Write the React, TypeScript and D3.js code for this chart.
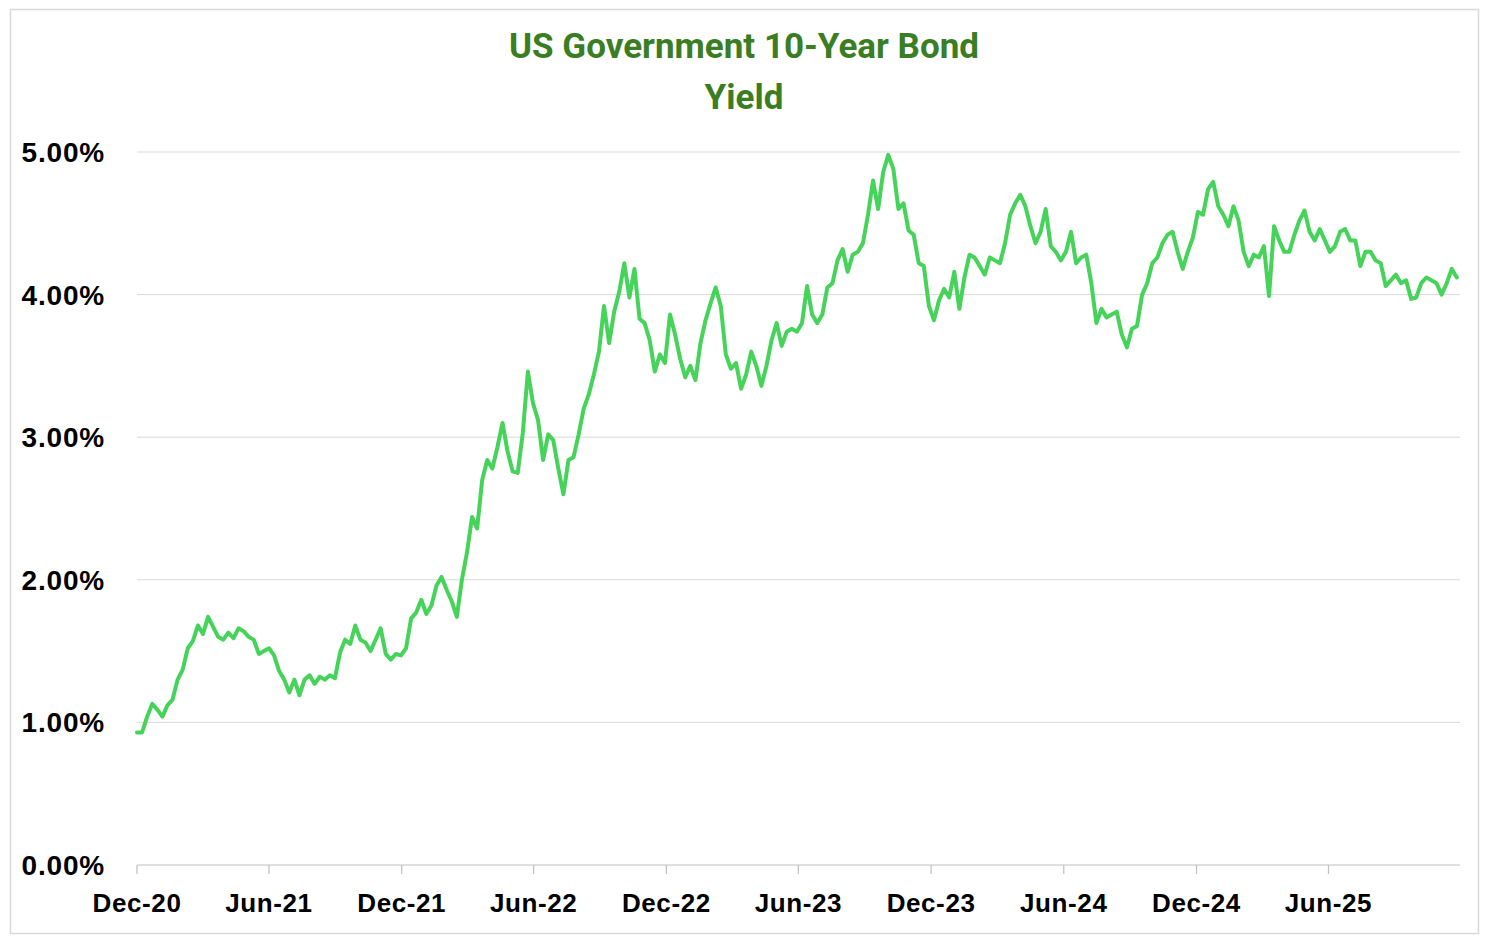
import React from 'react';
import * as d3 from 'd3';

// weekly yields (%), one array per half year, starting Mon 21 Dec 2020
const h1_2021 = [0.93, 0.93, 1.04, 1.13, 1.09, 1.04, 1.12, 1.16, 1.30, 1.37, 1.52, 1.57, 1.68, 1.62, 1.74, 1.67, 1.60, 1.58, 1.63, 1.59, 1.66, 1.64, 1.60, 1.58, 1.48, 1.50];
const h2_2021 = [1.52, 1.47, 1.36, 1.30, 1.21, 1.30, 1.19, 1.30, 1.33, 1.27, 1.32, 1.30, 1.33, 1.31, 1.49, 1.58, 1.55, 1.68, 1.58, 1.56, 1.50, 1.58, 1.66, 1.48, 1.44, 1.48];
const h1_2022 = [1.47, 1.52, 1.73, 1.77, 1.86, 1.76, 1.82, 1.96, 2.02, 1.93, 1.85, 1.74, 2.00, 2.19, 2.44, 2.36, 2.70, 2.84, 2.78, 2.93, 3.10, 2.90, 2.76, 2.75, 3.03, 3.46];
const h2_2022 = [3.24, 3.12, 2.84, 3.02, 2.98, 2.78, 2.60, 2.84, 2.86, 3.02, 3.20, 3.30, 3.44, 3.60, 3.92, 3.66, 3.88, 4.02, 4.22, 3.98, 4.18, 3.83, 3.80, 3.68, 3.46, 3.58];
const h1_2023 = [3.52, 3.86, 3.72, 3.55, 3.42, 3.50, 3.40, 3.66, 3.82, 3.94, 4.05, 3.92, 3.58, 3.48, 3.52, 3.34, 3.44, 3.60, 3.50, 3.36, 3.50, 3.68, 3.80, 3.64, 3.74, 3.76];
const h2_2023 = [3.74, 3.80, 4.06, 3.86, 3.80, 3.86, 4.05, 4.08, 4.24, 4.32, 4.16, 4.28, 4.30, 4.36, 4.56, 4.80, 4.60, 4.86, 4.98, 4.88, 4.60, 4.64, 4.45, 4.42, 4.22, 4.20];
const h1_2024 = [3.92, 3.82, 3.96, 4.04, 3.98, 4.16, 3.90, 4.12, 4.28, 4.26, 4.20, 4.14, 4.26, 4.24, 4.22, 4.36, 4.56, 4.64, 4.70, 4.62, 4.48, 4.36, 4.44, 4.60, 4.34, 4.30];
const h2_2024 = [4.24, 4.30, 4.44, 4.22, 4.26, 4.28, 4.08, 3.80, 3.90, 3.84, 3.86, 3.88, 3.72, 3.63, 3.76, 3.78, 4.00, 4.08, 4.22, 4.26, 4.36, 4.42, 4.44, 4.30, 4.18, 4.30];
const h1_2025 = [4.40, 4.58, 4.56, 4.74, 4.79, 4.62, 4.56, 4.48, 4.62, 4.52, 4.30, 4.20, 4.28, 4.26, 4.34, 3.99, 4.48, 4.38, 4.30, 4.30, 4.42, 4.52, 4.59, 4.44, 4.38, 4.46];
const h2_2025 = [4.38, 4.30, 4.34, 4.44, 4.46, 4.38, 4.38, 4.20, 4.30, 4.30, 4.24, 4.22, 4.06, 4.10, 4.14, 4.08, 4.10, 3.97, 3.98, 4.08, 4.12, 4.10, 4.08, 4.00, 4.08, 4.18, 4.12];

const yieldValues = [
  ...h1_2021, ...h2_2021, ...h1_2022, ...h2_2022, ...h1_2023,
  ...h2_2023, ...h1_2024, ...h2_2024, ...h1_2025, ...h2_2025,
];

const yTicks = [0, 1, 2, 3, 4, 5];
const xTickCount = 10; // one every 6 months from the start date

const startDate = new Date(2020, 11, 21);
const endDate = new Date(2025, 11, 18);

const W = 1490, H = 944;
const plot = { left: 137, right: 1459, top: 152, bottom: 865 };

export default function App() {
  const x = d3.scaleTime().domain([startDate, endDate]).range([plot.left, plot.right]);
  const y = d3.scaleLinear().domain([0, 5]).range([plot.bottom, plot.top]);

  const data = yieldValues.map((v, i) => ({ date: d3.timeDay.offset(startDate, i * 7), value: v }));
  const line = d3.line<{ date: Date; value: number }>()
    .x(d => x(d.date))
    .y(d => y(d.value));

  const xTicks = d3.range(xTickCount).map(k => d3.timeMonth.offset(startDate, k * 6));
  const fmtX = d3.timeFormat('%b-%y');
  const fmtY = (v: number) => d3.format('.2f')(v) + '%';

  const labelFont = '"Liberation Sans", Arial, sans-serif';

  return (
    <svg width={W} height={H} style={{ position: 'absolute', left: 0, top: 0 }}>
      <rect x={0} y={0} width={W} height={H} fill="#fff" />
      <rect x={10.5} y={9.5} width={1468} height={924} fill="none" stroke="#d9d9d9" strokeWidth={1.5} />

      <text x={744} y={58} textAnchor="middle" fontFamily="Roboto, sans-serif" fontWeight={700}
        fontSize={35} fill="#3a7d22">US Government 10-Year Bond</text>
      <text x={744} y={109} textAnchor="middle" fontFamily="Roboto, sans-serif" fontWeight={700}
        fontSize={35} fill="#3a7d22">Yield</text>

      {yTicks.map(t => (
        <g key={t}>
          {t > 0 && (
            <line x1={plot.left} x2={plot.right + 1} y1={y(t)} y2={y(t)} stroke="#d9d9d9" strokeWidth={1} />
          )}
          <text x={105} y={y(t)} dy="0.36em" textAnchor="end" fontFamily={labelFont} fontWeight={700}
            fontSize={28} letterSpacing={0.8} fill="#000">{fmtY(t)}</text>
        </g>
      ))}

      <line x1={plot.left} x2={plot.right + 1} y1={plot.bottom} y2={plot.bottom} stroke="#bfbfbf" strokeWidth={1.2} />
      {xTicks.map((d, k) => (
        <g key={k}>
          <line x1={x(d)} x2={x(d)} y1={plot.bottom} y2={plot.bottom + 9} stroke="#bfbfbf" strokeWidth={1.2} />
          <text x={x(d)} y={903} dy="0.36em" textAnchor="middle" fontFamily={labelFont} fontWeight={700}
            fontSize={26} letterSpacing={0.6} fill="#000">{fmtX(d)}</text>
        </g>
      ))}

      <path d={line(data) || ''} fill="none" stroke="#45d35a" strokeWidth={4}
        strokeLinejoin="round" strokeLinecap="round" />
    </svg>
  );
}
